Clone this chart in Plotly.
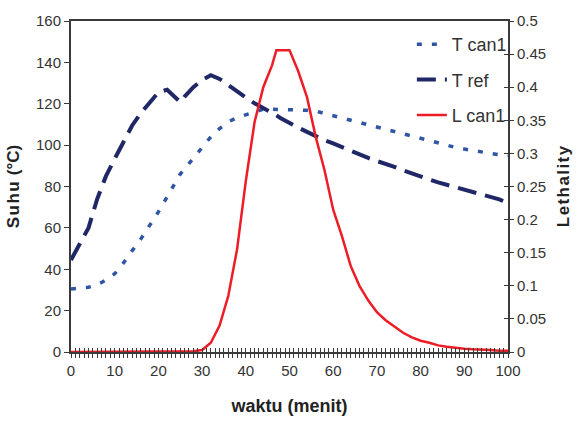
import plotly.graph_objects as go

waktu = [0, 2, 4, 6, 8, 10, 12, 14, 16, 18, 20, 22, 24, 25, 26, 28, 30, 32, 34, 36, 38, 40,
         42, 44, 46, 47, 48, 50, 52, 54, 56, 58, 60, 62, 64, 66, 68, 70, 72, 74, 76, 78, 80,
         82, 84, 86, 88, 90, 92, 94, 96, 98, 100]

t_can1 = [30.4, 30.8, 31.3, 32.5, 34.8, 37.8, 43, 49, 54.7, 61.2, 67.7, 75, 82.5, 86, 88.5,
          93.5, 99, 104, 108, 111.3, 113.3, 114.5, 116, 117.3, 117.3, 117.3, 117.3, 117.2, 117,
          116.8, 116.5, 115.3, 114.2, 113.1, 112, 111, 109.8, 108.5, 107.4, 106.3, 105.2,
          104.1, 103.2, 102.1, 100.9, 99.7, 98.9, 98.1, 97.3, 96.6, 96, 95.4, 95]

t_ref = [44.5, 52, 60, 74, 85, 93.4, 101, 109.5, 115.5, 120.8, 125.5, 126.8, 123, 120.8,
         123.5, 128, 131.5, 133.8, 132, 128.8, 125.7, 123, 120.2, 118, 115.8, 114.4, 113, 110.6,
         108.5, 106.4, 104.3, 102.4, 100.8, 99, 97, 95.4, 93.8, 92.3, 91, 89.5, 87.8, 86.2,
         84.8, 83.4, 82, 80.8, 79.6, 78.2, 77, 76, 75, 73.8, 72]

l_can1 = [0, 0, 0, 0, 0, 0, 0, 0, 0, 0, 0, 0, 0, 0, 0, 0.001, 0.003, 0.014, 0.04, 0.085,
          0.155, 0.258, 0.347, 0.4, 0.433, 0.456, 0.456, 0.456, 0.424, 0.385, 0.325, 0.275,
          0.215, 0.175, 0.13, 0.1, 0.078, 0.06, 0.048, 0.038, 0.029, 0.022, 0.017, 0.014,
          0.01, 0.008, 0.006, 0.005, 0.004, 0.004, 0.003, 0.002, 0.002]

x_ticks = [0, 10, 20, 30, 40, 50, 60, 70, 80, 90, 100]
y_ticks = [0, 20, 40, 60, 80, 100, 120, 140, 160]
y2_ticks = [0, 0.05, 0.1, 0.15, 0.2, 0.25, 0.3, 0.35, 0.4, 0.45, 0.5]
y2_labels = ["0", "0.05", "0.1", "0.15", "0.2", "0.25", "0.3", "0.35", "0.4", "0.45", "0.5"]

FONT = "Liberation Sans, Arial, sans-serif"
AX = "#3a3a3a"
TITLE_FONT = dict(family="Liberation Sans, Arial, sans-serif", size=17, color="#222222")
HS = "\u200a"

fig = go.Figure()
fig.add_trace(go.Scatter(x=waktu, y=t_can1, name="T can1", mode="lines", legendgroup="a",
                         line=dict(color="#2f55a4", width=3.5, dash="5px,10px")))
fig.add_trace(go.Scatter(x=waktu, y=t_ref, name="T ref", mode="lines", legendgroup="b",
                         line=dict(color="#1f2766", width=4, dash="19px,9px")))
fig.add_trace(go.Scatter(x=waktu, y=l_can1, name="L can1", mode="lines", legendgroup="c",
                         yaxis="y2", line=dict(color="#ee1c25", width=2.5)))
# empty helper trace so the tick-overlay axes exist
fig.add_trace(go.Scatter(x=[], y=[], xaxis="x2", yaxis="y3", showlegend=False, hoverinfo="skip"))

fig.update_layout(
    width=582, height=425,
    margin=dict(l=70, r=69, t=21, b=73),
    paper_bgcolor="white", plot_bgcolor="white",
    font=dict(family=FONT, size=15, color="#333333"),
    showlegend=True,
    legend=dict(x=0.78, y=0.985, xanchor="left", yanchor="top",
                font=dict(family=FONT, size=18, color="#333333"),
                tracegroupgap=9, bgcolor="rgba(0,0,0,0)"),
    xaxis=dict(range=[0, 100], tickvals=x_ticks, showgrid=False, zeroline=False,
               showline=True, linecolor=AX, linewidth=2, mirror=True,
               ticks="outside", ticklen=4, tickwidth=1, tickcolor=AX,
               minor=dict(dtick=1, ticks="outside", ticklen=4, tickwidth=1, tickcolor=AX),
               title=dict(text="<b>waktu (menit)</b>", font=dict(TITLE_FONT, size=18), standoff=21)),
    xaxis2=dict(range=[0, 100], overlaying="x", anchor="y", side="bottom", showgrid=False,
                zeroline=False, showline=False, showticklabels=False, tickvals=x_ticks,
                ticks="inside", ticklen=4, tickwidth=1, tickcolor=AX,
                minor=dict(dtick=1, ticks="inside", ticklen=4, tickwidth=1, tickcolor=AX)),
    yaxis=dict(range=[0, 160], tickvals=y_ticks, showgrid=False, zeroline=False,
               showline=True, linecolor=AX, linewidth=2,
               ticks="outside", ticklen=5, tickwidth=1, tickcolor=AX,
               title=dict(text="<b>" + HS.join("Suhu") + HS + " (°C)</b>",
                          font=TITLE_FONT, standoff=12)),
    yaxis2=dict(range=[0, 0.5], tickvals=y2_ticks, ticktext=y2_labels, overlaying="y",
                side="right", anchor="x", showgrid=False, zeroline=False,
                showline=True, linecolor=AX, linewidth=2,
                ticks="outside", ticklen=4, tickwidth=1, tickcolor=AX,
                title=dict(text="<b>" + HS.join("Lethality") + "</b>", font=TITLE_FONT, standoff=12)),
    yaxis3=dict(range=[0, 0.5], tickvals=y2_ticks, overlaying="y", side="right", anchor="x2",
                showgrid=False, zeroline=False, showline=False, showticklabels=False,
                ticks="inside", ticklen=4, tickwidth=1, tickcolor=AX),
)

fig.write_html("out.html")
